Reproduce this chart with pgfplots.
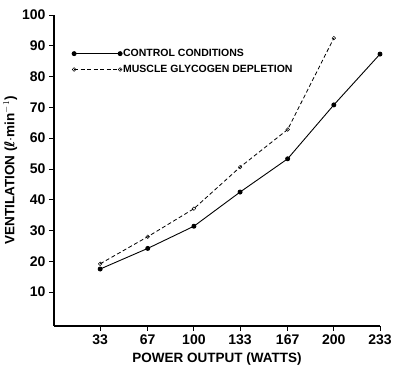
\documentclass[border=0pt]{standalone}
\usepackage{fontspec}
\setmainfont{Liberation Sans}
\newfontfamily\djv{DejaVu Sans}
\usepackage{pgfplots}
\pgfplotsset{compat=1.18}
\begin{document}
\begin{tikzpicture}
\useasboundingbox (0,0) rectangle (400pt,369pt);
\begin{axis}[
  at={(54pt,43pt)}, anchor=south west,
  scale only axis, width=326pt, height=311pt,
  xmin=0, xmax=233, ymin=-1, ymax=100,
  axis lines=left, axis line style={-, line width=1.1pt},
  xtick={33,67,100,133,167,200,233},
  ytick={10,20,...,100},
  tick align=outside, major tick length=5pt,
  tick style={line width=0.9pt, black},
  /pgf/number format/assume math mode=true,
  tick label style={font=\fontsize{14}{16}\selectfont\bfseries},
  xlabel={POWER OUTPUT (WATTS)},
  ylabel={VENTILATION ({\djv ℓ}$\cdot$min$^{-1}$)},
  label style={font=\fontsize{13.5}{16}\selectfont\bfseries},
  xlabel style={yshift=-1pt},
  ylabel style={yshift=-2pt},
  legend style={draw=none, fill=none, at={(0.055,0.897)}, anchor=north west,
    inner xsep=0pt, inner ysep=0pt, row sep=3pt,
    font=\fontsize{10.5}{12}\selectfont\bfseries, nodes={inner xsep=1pt}},
  legend cell align=left,
  legend image code/.code={\draw[mark repeat=1,mark phase=1,#1] plot coordinates {(0pt,0pt) (46pt,0pt)};},
]
\addplot[black, line width=0.9pt, mark=*, mark size=2pt, mark options={solid, fill=black}]
  coordinates {(33,17.5) (67,24.2) (100,31.4) (133,42.5) (167,53.3) (200,70.8) (233,87.3)};
\addlegendentry{CONTROL CONDITIONS}
\addplot[black, line width=0.8pt, dash pattern=on 4pt off 2.5pt, mark=o, mark size=1.8pt, mark options={solid, fill=white, line width=0.5pt}]
  coordinates {(33,19.2) (67,28.0) (100,37.1) (133,50.6) (167,62.8) (200,92.5)};
\addlegendentry{MUSCLE GLYCOGEN DEPLETION}
\end{axis}
\end{tikzpicture}
\end{document}
